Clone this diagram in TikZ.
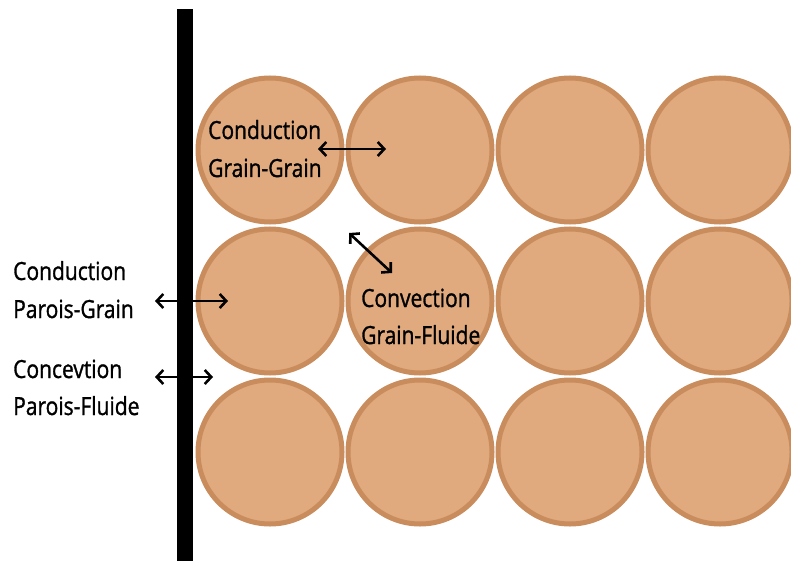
\documentclass[tikz,border=0pt]{standalone}
\usepackage{fontspec}
\setmainfont{Open Sans}[FakeStretch=0.84,FakeBold=1.2,Ligatures=NoCommon]
\usetikzlibrary{arrows.meta}
\definecolor{grainfill}{RGB}{224,170,126}
\definecolor{grainedge}{RGB}{201,140,92}
\begin{document}
\begin{tikzpicture}[x=1pt,y=-1pt,
  grain/.style={circle,draw=grainedge,fill=grainfill,line width=5pt,
                minimum size=144pt,inner sep=0pt},
  lbl/.style={anchor=base west,inner sep=0pt,font=\fontsize{25}{30}\selectfont},
  flux/.style={line width=2.6pt,
               {Straight Barb[length=6.5pt,width=14pt]}-{Straight Barb[length=6.5pt,width=14pt]}}]
\useasboundingbox (0,0) rectangle (791,561);

% packed bed of grains, 3 rows x 4 columns
\foreach \c/\x in {1/270,2/420,3/570,4/720}
  \foreach \r/\y in {1/150,2/301,3/452}
    \node[grain] (g\r\c) at (\x,\y) {};

% heated wall
\node[fill=black,inner sep=0pt,minimum width=16pt,minimum height=552pt,
      anchor=north west] (wall) at (177,9) {};

% arrow end points
\coordinate (gg-a) at (318,149);
\coordinate (gg-b) at (386,149);
\coordinate (gf-a) at (349,233);
\coordinate (gf-b) at (392,273);
\coordinate (pg-a) at (155,301);
\coordinate (pg-b) at (228,301);
\coordinate (pf-a) at (155,377);
\coordinate (pf-b) at (213,377);

\draw[flux] (gg-a) -- (gg-b);
\draw[flux] (gf-a) -- (gf-b);
\draw[flux] (pg-a) -- (pg-b);
\draw[flux] (pf-a) -- (pf-b);

% labels
\node[lbl] (t-gg1) at (208,139) {Conduction};
\node[lbl] (t-gg2) at (208,177) {Grain-Grain};
\node[lbl] (t-pg1) at (13,280) {Conduction};
\node[lbl] (t-pg2) at (13,318) {Parois-Grain};
\node[lbl] (t-pf1) at (13,378) {Concevtion};
\node[lbl] (t-pf2) at (13,415) {Parois-Fluide};
\node[lbl] (t-gf1) at (361,307) {Convection};
\node[lbl] (t-gf2) at (361,344) {Grain-Fluide};
\end{tikzpicture}
\end{document}
